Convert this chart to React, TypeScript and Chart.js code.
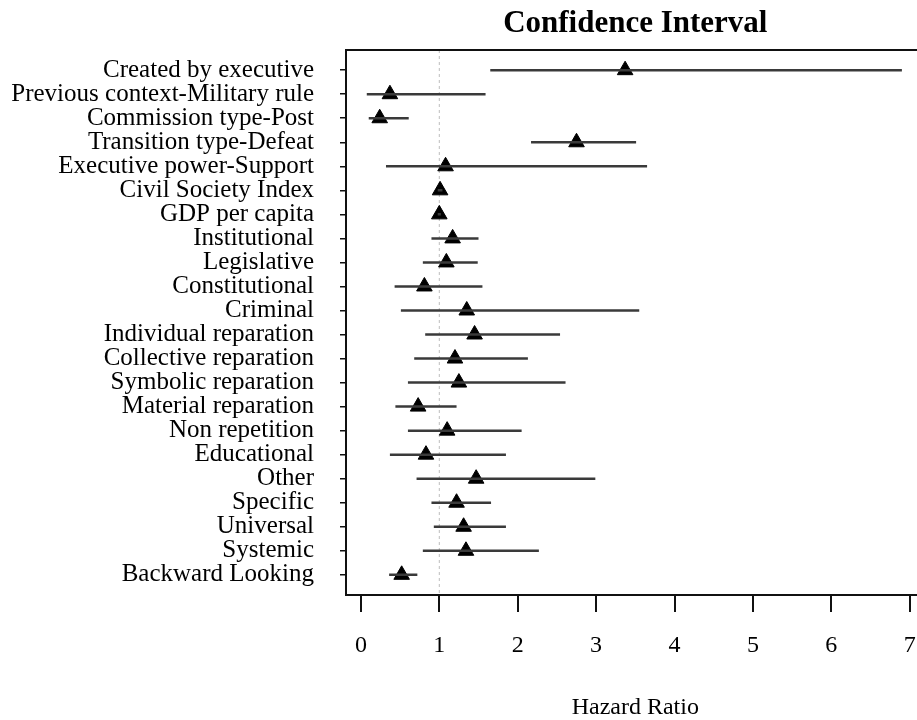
import React, { useEffect, useRef } from "react";
import { Chart, registerables } from "chart.js";

Chart.register(...registerables);

const categories = [
  "Created by executive",
  "Previous context-Military rule",
  "Commission type-Post",
  "Transition type-Defeat",
  "Executive power-Support",
  "Civil Society Index",
  "GDP per capita",
  "Institutional",
  "Legislative",
  "Constitutional",
  "Criminal",
  "Individual reparation",
  "Collective reparation",
  "Symbolic reparation",
  "Material reparation",
  "Non repetition",
  "Educational",
  "Other",
  "Specific",
  "Universal",
  "Systemic",
  "Backward Looking",
];
const hazard = [3.37, 0.37, 0.24, 2.75, 1.08, 1.01, 1.0, 1.17, 1.09, 0.81, 1.35, 1.45, 1.2, 1.25, 0.73, 1.1, 0.83, 1.47, 1.22, 1.31, 1.34, 0.52];
const lower = [1.65, 0.075, 0.1, 2.17, 0.32, 0.98, 0.98, 0.9, 0.79, 0.43, 0.51, 0.82, 0.68, 0.6, 0.44, 0.6, 0.37, 0.71, 0.9, 0.93, 0.79, 0.36];
const upper = [6.9, 1.59, 0.61, 3.51, 3.65, 1.04, 1.02, 1.5, 1.49, 1.55, 3.55, 2.54, 2.13, 2.61, 1.22, 2.05, 1.85, 2.99, 1.66, 1.85, 2.27, 0.72];
const xTicks = [0, 1, 2, 3, 4, 5, 6, 7];
const refValue = 1;

const FONT = "'Liberation Serif', 'Times New Roman', serif";

export default function App() {
  const ref = useRef<HTMLCanvasElement | null>(null);
  useEffect(() => {
    if (!ref.current) return;
    const n = categories.length;
    const rowY = (i: number) => n - i;
    const ciSets = categories.map((c, i) => ({
      type: "line" as const,
      label: c,
      data: [
        { x: lower[i], y: rowY(i) },
        { x: upper[i], y: rowY(i) },
      ],
      borderColor: "#3a3a3a",
      borderWidth: 2.5,
      pointRadius: 0,
      fill: false,
    }));
    const pointSet = {
      type: "scatter" as const,
      label: "Hazard Ratio",
      data: categories.map((c, i) => ({ x: hazard[i], y: rowY(i) })),
      pointStyle: "triangle",
      pointRadius: 9,
      backgroundColor: "#000",
      borderColor: "#000",
      borderWidth: 1,
    };
    const boxPlugin = {
      id: "box",
      beforeDatasetsDraw(chart: any) {
        const { ctx, chartArea, scales } = chart;
        const x1 = scales.x.getPixelForValue(refValue);
        ctx.save();
        ctx.strokeStyle = "#bdbdbd";
        ctx.lineWidth = 1;
        ctx.setLineDash([3, 3]);
        ctx.beginPath();
        ctx.moveTo(x1, chartArea.top);
        ctx.lineTo(x1, chartArea.bottom);
        ctx.stroke();
        ctx.restore();
      },
      afterDraw(chart: any) {
        const { ctx, chartArea } = chart;
        ctx.save();
        ctx.strokeStyle = "#111";
        ctx.lineWidth = 2;
        ctx.strokeRect(chartArea.left, chartArea.top, chartArea.right - chartArea.left, chartArea.bottom - chartArea.top);
        ctx.restore();
      },
    };
    const chart = new Chart(ref.current, {
      type: "scatter",
      data: { datasets: [...ciSets, pointSet] as any },
      options: {
        animation: false,
        responsive: false,
        maintainAspectRatio: false,
        layout: { padding: 0 },
        plugins: {
          legend: { display: false },
          tooltip: { enabled: false },
          title: {
            display: true,
            text: "Confidence Interval",
            fullSize: false,
            color: "#000",
            font: { family: FONT, size: 31, weight: "bold" },
            padding: { top: 5, bottom: 7.8 },
          },
        },
        scales: {
          x: {
            type: "linear",
            min: -0.19,
            max: 7.19,
            afterBuildTicks: (s: any) => {
              s.ticks = xTicks.map((v) => ({ value: v }));
            },
            afterFit: (s: any) => {
              s.height = 129;
            },
            grid: { drawOnChartArea: false, tickLength: 17, color: "#111", lineWidth: 2 },
            border: { display: false },
            ticks: {
              color: "#000",
              font: { family: FONT, size: 24 },
              padding: 19,
              maxRotation: 0,
              callback: (v: any) => String(v),
            },
            title: {
              display: true,
              text: "Hazard Ratio",
              color: "#000",
              font: { family: FONT, size: 24 },
              padding: { top: 0, bottom: 1.5 },
            },
          },
          y: {
            type: "linear",
            min: 0.16,
            max: n + 0.84,
            afterBuildTicks: (s: any) => {
              s.ticks = categories.map((c, i) => ({ value: rowY(i) }));
            },
            afterFit: (s: any) => {
              s.width = 346;
            },
            grid: { drawOnChartArea: false, tickLength: 6, color: "#111", lineWidth: 1.5 },
            border: { display: false },
            ticks: {
              color: "#000",
              font: { family: FONT, size: 25 },
              padding: 26,
              autoSkip: false,
              callback: (v: any) => categories[n - Number(v)] ?? "",
            },
          },
        },
      },
      plugins: [boxPlugin],
    });
    return () => chart.destroy();
  }, []);
  return (
    <div style={{ position: "absolute", left: 0, top: 0, width: 917, height: 720, overflow: "hidden", background: "#fff" }}>
      <canvas ref={ref} width={935} height={724} style={{ width: 935, height: 724, display: "block" }} />
    </div>
  );
}
